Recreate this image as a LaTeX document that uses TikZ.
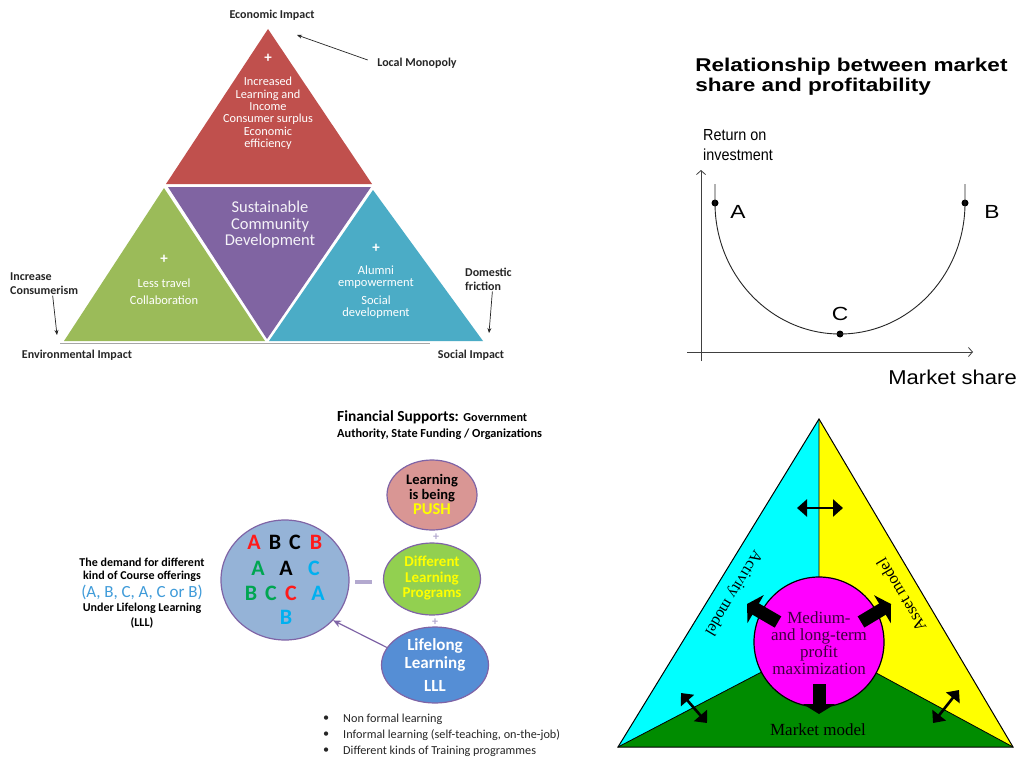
\documentclass[tikz,border=0pt]{standalone}
\usepackage{fontspec}
\setmainfont{Carlito}
\newfontfamily\fsans{Liberation Sans}
\newfontfamily\fserif{Liberation Serif}
\usetikzlibrary{shapes.geometric,arrows.meta,calc}

\newcommand{\fz}[2]{\fontsize{#1}{#2}\selectfont}

% sustainable community development
\definecolor{ecored}{HTML}{C0504D}
\definecolor{scdpurple}{HTML}{8064A2}
\definecolor{envgreen}{HTML}{9BBB59}
\definecolor{socblue}{HTML}{4BACC6}
\definecolor{lblgray}{HTML}{262626}
% lifelong learning
\definecolor{pushpink}{HTML}{D99694}
\definecolor{proggreen}{HTML}{92D050}
\definecolor{lllblue}{HTML}{558ED5}
\definecolor{demblue}{HTML}{95B3D7}
\definecolor{rimpurple}{HTML}{7F64A6}
\definecolor{plusgray}{HTML}{B3A9CF}
\definecolor{lettred}{HTML}{FF1A1A}
\definecolor{lettgreen}{HTML}{00A651}
\definecolor{lettcyan}{HTML}{00B0F0}
\definecolor{parenblue}{HTML}{3F9BD9}
\definecolor{pushyellow}{HTML}{FFFF00}
% business models
\definecolor{mcyan}{HTML}{00FFFF}
\definecolor{myellow}{HTML}{FFFF00}
\definecolor{mgreen}{HTML}{008C00}
\definecolor{mmagenta}{HTML}{FF00FF}
\definecolor{mtext}{HTML}{3D003D}

\tikzset{
  lbl/.style={font=\bfseries\fz{12}{14}, text=lblgray, inner sep=1pt},
  wtxt/.style={font=\fz{12.3}{12.4}, text=white, align=center, inner sep=0pt},
  wplus/.style={font=\bfseries\fz{15}{15}, text=white, inner sep=0pt},
  pointer/.style={draw=lblgray, line width=0.7pt, -{Stealth[length=5pt,width=4pt]}},
  axis/.style={draw=black!75, line width=0.8pt, -{Straight Barb[length=4pt,width=9pt]}},
  dot/.style={circle, fill=black, inner sep=0pt, minimum size=7pt},
  abc/.style={font=\fsans\fz{19}{20}, xscale=1.2, inner sep=0pt},
  bubble/.style={ellipse, draw=rimpurple, line width=1.2pt, inner sep=0pt},
  bubtxt/.style={align=center, inner sep=0pt, font=\bfseries\fz{15}{15.5}},
  letter/.style={font=\bfseries\fz{22}{22}, inner sep=0pt},
  demtxt/.style={font=\bfseries\fz{12}{14}, text=black, inner sep=0pt},
  plus/.style={font=\bfseries\fz{12}{12}, text=plusgray, inner sep=0pt},
  bullet/.style={font=\fz{12.2}{13}, text=lblgray, inner sep=0pt, anchor=west},
  dblarrow/.style={draw=black, line width=2.6pt,
                   {Triangle[length=10pt,width=17pt]}-{Triangle[length=10pt,width=17pt]}},
  blockarrow/.style={draw=black, line width=13pt, -{Triangle[length=10pt,width=32pt]}},
  serif/.style={font=\fserif\fz{17}{17}, text=black, inner sep=0pt}
}

\begin{document}
\begin{tikzpicture}[x=1pt,y=-1pt]
\useasboundingbox (0,0) rectangle (1019,760);
\fill[white] (0,0) rectangle (1019,760);

%% ---------- Sustainable community development pyramid ----------
\fill[ecored]    (268,29)  -- (166,184) -- (372,184) -- cycle;
\fill[scdpurple] (168,187) -- (371,187) -- (267,339) -- cycle;
\fill[envgreen]  (164,188) -- (64,341)  -- (265,341) -- cycle;
\fill[socblue]   (373,190) -- (269,341) -- (483,341) -- cycle;
\draw[gray!70, line width=0.8pt] (60,343.5) -- (430,343.5);

\node[lbl] (econ) at (272,15) {Economic Impact};
\node[lbl] (mono) at (417,63) {Local Monopoly};
\coordinate (monotip) at (297,35);
\draw[pointer, shorten <=9pt] (mono.west) -- (monotip);

\node[wplus] (ecoplus) at (268,58) {+};
\node[wtxt] (ecotxt) at (268,113.5)
  {Increased\\Learning and\\Income\\Consumer surplus\\Economic\\efficiency};
\node[wtxt, font=\fz{16.5}{16.5}, text=white!92!scdpurple] (scd) at (270,225)
  {Sustainable\\Community\\Development};
\node[wplus] (envplus) at (164,259) {+};
\node[wtxt, font=\fz{12.5}{17}] (envtxt) at (164,291.5) {Less travel\\Collaboration};
\node[wplus] (socplus) at (376,248) {+};
\node[wtxt, font=\fz{12.5}{12.5}] (soctxt1) at (376,277) {Alumni\\empowerment};
\node[wtxt, font=\fz{12.5}{12.5}] (soctxt2) at (376,307) {Social\\development};

\node[lbl, align=left, anchor=west] (consum) at (9,283.5) {Increase\\Consumerism};
\coordinate (consumtip) at (57,335);
\draw[pointer] ($(consum.south west)!0.62!(consum.south east)$) -- (consumtip);
\node[lbl, align=left, anchor=west] (fric) at (464,279) {Domestic\\friction};
\coordinate (frictip) at (489,333);
\draw[pointer] ($(fric.south west)!0.58!(fric.south east)$) -- (frictip);
\node[lbl] (envimp) at (77,355) {Environmental Impact};
\node[lbl] (socimp) at (471,355) {Social Impact};

%% ---------- Market share and profitability ----------
\node[font=\fsans\bfseries\fz{18.5}{20}, xscale=1.22, align=left, anchor=west, inner sep=0pt]
  (title) at (695,77) {Relationship between market\\share and profitability};
\node[font=\fsans\fz{16}{20}, xscale=0.9, align=left, anchor=west, inner sep=0pt]
  (roi) at (703,145) {Return on\\investment};
\node[font=\fsans\fz{20}{22}, xscale=1.1, anchor=east, inner sep=0pt]
  (mshare) at (1017,377) {Market share};

\coordinate (ybot) at (701,361);
\coordinate (ytop) at (701,170);
\coordinate (xleft) at (687,352);
\coordinate (xright) at (973,352);
\draw[axis] (ybot) -- (ytop);
\draw[axis] (xleft) -- (xright);

\node[dot] (ptA) at (715,203) {};
\node[dot] (ptB) at (965,203) {};
\node[dot] (ptC) at (840,334) {};
\draw[black!85, line width=0.9pt]
  (715,184) -- (ptA.center)
  .. controls (715,275) and (771,334) .. (ptC.center)
  .. controls (909,334) and (965,275) .. (ptB.center) -- (965,184);
\node[abc] (labA) at (738,212) {A};
\node[abc] (labB) at (992,212) {B};
\node[abc] (labC) at (840,314) {C};

%% ---------- Lifelong learning ----------
\node[font=\bfseries\fz{15.4}{16}, anchor=west, inner sep=0pt] (fin1) at (337,417)
  {Financial Supports: {\fz{12.2}{16}Government}};
\node[demtxt, anchor=west, font=\bfseries\fz{12.3}{14}] (fin2) at (337,434)
  {Authority, State Funding / Organizations};

\node[bubble, fill=pushpink, minimum width=90pt, minimum height=70pt] (push) at (432,495) {};
\node[bubble, fill=proggreen, minimum width=97pt, minimum height=72pt] (prog) at (432,579) {};
\node[bubble, fill=lllblue, minimum width=107pt, minimum height=76pt] (lll) at (435,665) {};
\node[bubtxt, font=\bfseries\fz{14.5}{15}] (pushtxt) at (432,494)
  {Learning\\is being\\{\fz{16.5}{16}\textcolor{pushyellow}{PUSH}}};
\node[bubtxt, text=pushyellow] (progtxt) at (432,578) {Different\\Learning\\Programs};
\node[bubtxt, text=white, font=\bfseries\fz{17}{18}] (llltxt) at (435,665)
  {Lifelong\\Learning\\[5pt]LLL};
\node[plus] (plus1) at (436,537) {+};
\node[plus] (plus2) at (435,622) {+};

\node[ellipse, draw=rimpurple, line width=1.2pt, fill=demblue,
      minimum width=128pt, minimum height=120pt, inner sep=0pt] (dem) at (285,580) {};
\node[fill=plusgray, minimum width=17pt, minimum height=3.5pt, inner sep=0pt] (minus) at (363,582) {};
\draw[draw=rimpurple, line width=1.2pt, -{Stealth[length=8pt,width=7pt]}] (lll.160) -- (dem.-40);

\node[letter, text=lettred]   (l11) at (254,542) {A};
\node[letter, text=black]     (l12) at (275,542) {B};
\node[letter, text=black]     (l13) at (295,542) {C};
\node[letter, text=lettred]   (l14) at (316,542) {B};
\node[letter, text=lettgreen] (l21) at (258,568) {A};
\node[letter, text=black]     (l22) at (286,568) {A};
\node[letter, text=lettcyan]  (l23) at (314,568) {C};
\node[letter, text=lettgreen] (l31) at (251,593) {B};
\node[letter, text=lettgreen] (l32) at (271,593) {C};
\node[letter, text=lettred]   (l33) at (291,593) {C};
\node[letter, text=lettcyan]  (l34) at (318,593) {A};
\node[letter, text=lettcyan]  (l41) at (286,617) {B};

\node[demtxt] (dtxt1) at (142,562) {The demand for different};
\node[demtxt] (dtxt2) at (142,576) {kind of Course offerings};
\node[font=\fz{17}{18}, text=parenblue, inner sep=0pt] (dtxt3) at (142,592) {(A, B, C, A, C or B)};
\node[demtxt] (dtxt4) at (142,608) {Under Lifelong Learning};
\node[demtxt] (dtxt5) at (142,623) {(LLL)};

\node[bullet] (b1) at (323,719) {\textbullet};
\node[bullet] (b2) at (323,735) {\textbullet};
\node[bullet] (b3) at (323,751) {\textbullet};
\node[bullet] (t1) at (343,719) {Non formal learning};
\node[bullet] (t2) at (343,735) {Informal learning (self-teaching, on-the-job)};
\node[bullet] (t3) at (343,751) {Different kinds of Training programmes};

%% ---------- Business model triangle ----------
\coordinate (apex) at (819,419);
\coordinate (bl) at (618,747);
\coordinate (br) at (1013,747);
\coordinate (mid) at (819,642);
\fill[mcyan]   (apex) -- (bl) -- (mid) -- cycle;
\fill[myellow] (apex) -- (mid) -- (br) -- cycle;
\fill[mgreen]  (bl) -- (br) -- (mid) -- cycle;
\draw[black, line width=0.8pt] (apex) -- (mid) (bl) -- (mid) (br) -- (mid);
\draw[black, line width=1pt, line join=miter] (apex) -- (bl) -- (br) -- cycle;

\node[circle, draw=black, line width=1.2pt, fill=mmagenta, minimum size=130pt, inner sep=0pt]
  (core) at (mid) {};
\node[serif, text=mtext, align=center] (coretxt) at (819,643)
  {Medium-\\and long-term\\profit\\maximization};

\coordinate (ulfrom) at (778,622);
\coordinate (ulto) at (747,604);
\coordinate (urfrom) at (861,622);
\coordinate (urto) at (891,604);
\coordinate (bfrom) at (819,684);
\coordinate (bto) at (819,714);
\draw[blockarrow] (ulfrom) -- (ulto);
\draw[blockarrow] (urfrom) -- (urto);
\draw[blockarrow] (bfrom) -- (bto);

\coordinate (d1a) at (797,508);
\coordinate (d1b) at (843,508);
\coordinate (d2a) at (681,693);
\coordinate (d2b) at (707,723);
\coordinate (d3a) at (933,723);
\coordinate (d3b) at (959,690);
\draw[dblarrow] (d1a) -- (d1b);
\draw[dblarrow] (d2a) -- (d2b);
\draw[dblarrow] (d3a) -- (d3b);

\node[serif, font=\fserif\fz{16}{16}, rotate=-121] (activity) at (733,593) {Activity model};
\node[serif, font=\fserif\fz{16.5}{16.5}, rotate=120.6] (asset) at (901,595) {Asset model};
\node[serif] (market) at (818,730) {Market model};

\end{tikzpicture}
\end{document}
